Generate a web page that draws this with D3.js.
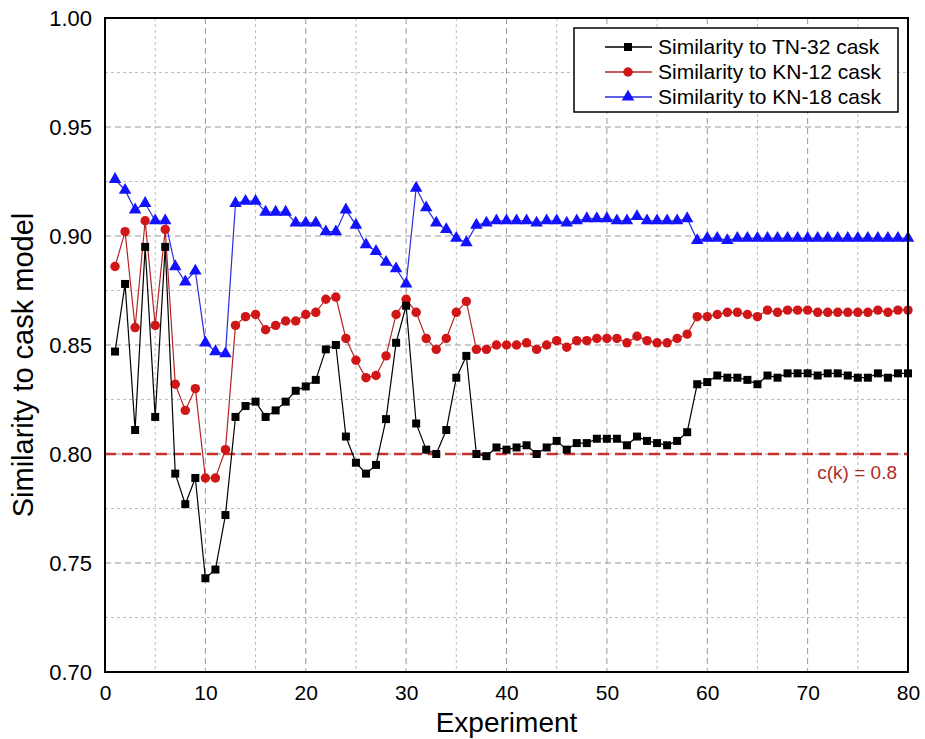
<!DOCTYPE html>
<html>
<head>
<meta charset="utf-8">
<script src="https://cdn.jsdelivr.net/npm/d3@7"></script>
<style>
  body { margin: 0; background: #fff; }
  text { font-family: "Liberation Sans", Arial, sans-serif; }
</style>
</head>
<body>
<div id="chart"></div>
<script>
// experiment numbers 1..80
const experiments = d3.range(1, 81);

const tn32 = [
  0.847, 0.878, 0.811, 0.895, 0.817, 0.895, 0.791, 0.777, 0.789, 0.743,
  0.747, 0.772, 0.817, 0.822, 0.824, 0.817, 0.820, 0.824, 0.829, 0.831,
  0.834, 0.848, 0.850, 0.808, 0.796, 0.791, 0.795, 0.816, 0.851, 0.868,
  0.814, 0.802, 0.800, 0.811, 0.835, 0.845, 0.800, 0.799, 0.803, 0.802,
  0.803, 0.804, 0.800, 0.803, 0.806, 0.802, 0.805, 0.805, 0.807, 0.807,
  0.807, 0.804, 0.808, 0.806, 0.805, 0.804, 0.806, 0.810, 0.832, 0.833,
  0.836, 0.835, 0.835, 0.834, 0.832, 0.836, 0.835, 0.837, 0.837, 0.837,
  0.836, 0.837, 0.837, 0.836, 0.835, 0.835, 0.837, 0.835, 0.837, 0.837
];

const kn12 = [
  0.886, 0.902, 0.858, 0.907, 0.859, 0.903, 0.832, 0.820, 0.830, 0.789,
  0.789, 0.802, 0.859, 0.863, 0.864, 0.857, 0.859, 0.861, 0.861, 0.864,
  0.865, 0.871, 0.872, 0.853, 0.843, 0.835, 0.836, 0.845, 0.864, 0.871,
  0.865, 0.853, 0.848, 0.853, 0.865, 0.870, 0.848, 0.848, 0.850, 0.850,
  0.850, 0.851, 0.848, 0.850, 0.852, 0.849, 0.852, 0.852, 0.853, 0.853,
  0.853, 0.851, 0.854, 0.852, 0.851, 0.851, 0.853, 0.855, 0.863, 0.863,
  0.864, 0.865, 0.865, 0.864, 0.863, 0.866, 0.865, 0.866, 0.866, 0.866,
  0.865, 0.865, 0.865, 0.865, 0.865, 0.865, 0.866, 0.865, 0.866, 0.866
];

const kn18 = [
  0.926, 0.921, 0.912, 0.915, 0.907, 0.907, 0.886, 0.879, 0.884, 0.851,
  0.847, 0.846, 0.915, 0.916, 0.916, 0.911, 0.911, 0.911, 0.906, 0.906,
  0.906, 0.902, 0.902, 0.912, 0.905, 0.896, 0.893, 0.888, 0.885, 0.878,
  0.922, 0.913, 0.906, 0.903, 0.899, 0.897, 0.905, 0.906, 0.907, 0.907,
  0.907, 0.907, 0.906, 0.907, 0.907, 0.906, 0.907, 0.908, 0.908, 0.908,
  0.907, 0.907, 0.909, 0.907, 0.907, 0.907, 0.907, 0.908, 0.898, 0.899,
  0.899, 0.898, 0.899, 0.899, 0.899, 0.899, 0.899, 0.899, 0.899, 0.899,
  0.899, 0.899, 0.899, 0.899, 0.899, 0.899, 0.899, 0.899, 0.899, 0.899
];

const seriesNames = ["Similarity to TN-32 cask", "Similarity to KN-12 cask", "Similarity to KN-18 cask"];
const xTicks = [0, 10, 20, 30, 40, 50, 60, 70, 80];
const yTicks = [0.70, 0.75, 0.80, 0.85, 0.90, 0.95, 1.00];
const threshold = 0.8;

let width = 925, height = 739;
let m = { left: 105, right: 908, top: 18, bottom: 672 };

let svg = d3.select("#chart").append("svg")
    .attr("width", width)
    .attr("height", height);

svg.append("rect").attr("width", width).attr("height", height).attr("fill", "#fff");

let x = d3.scaleLinear().domain([0, 80]).range([m.left, m.right]);
let y = d3.scaleLinear().domain([0.70, 1.00]).range([m.bottom, m.top]);

// grid: minor dotted, major dashed
let grid = svg.append("g");
let minorX = d3.range(5, 80, 10), minorY = [0.725, 0.775, 0.825, 0.875, 0.925, 0.975];
grid.selectAll(".mx").data(minorX).enter().append("line")
    .attr("x1", d => x(d)).attr("x2", d => x(d)).attr("y1", m.top).attr("y2", m.bottom)
    .attr("stroke", "#bdbdbd").attr("stroke-dasharray", "3,3");
grid.selectAll(".my").data(minorY).enter().append("line")
    .attr("y1", d => y(d)).attr("y2", d => y(d)).attr("x1", m.left).attr("x2", m.right)
    .attr("stroke", "#bdbdbd").attr("stroke-dasharray", "3,3");
grid.selectAll(".gx").data(xTicks.slice(1, -1)).enter().append("line")
    .attr("x1", d => x(d)).attr("x2", d => x(d)).attr("y1", m.top).attr("y2", m.bottom)
    .attr("stroke", "#999").attr("stroke-dasharray", "6,4");
grid.selectAll(".gy").data(yTicks.slice(1, -1)).enter().append("line")
    .attr("y1", d => y(d)).attr("y2", d => y(d)).attr("x1", m.left).attr("x2", m.right)
    .attr("stroke", "#999").attr("stroke-dasharray", "6,4");

// threshold line
svg.append("line")
    .attr("x1", m.left).attr("x2", m.right)
    .attr("y1", y(threshold)).attr("y2", y(threshold))
    .attr("stroke", "#c8322d").attr("stroke-width", 2.5)
    .attr("stroke-dasharray", "11,6");
svg.append("text")
    .attr("x", 897).attr("y", y(threshold) + 25)
    .attr("text-anchor", "end")
    .attr("font-size", 19)
    .attr("fill", "#b02a2a")
    .text("c(k) = " + threshold);

let series = [
  { name: seriesNames[2], values: kn18, line: "#2b2bdd", fill: "#1212ff", shape: d3.symbolTriangle, size: 68 },
  { name: seriesNames[1], values: kn12, line: "#b52323", fill: "#d01616", shape: d3.symbolCircle, size: 70 },
  { name: seriesNames[0], values: tn32, line: "#000", fill: "#000", shape: d3.symbolSquare, size: 64 }
];

let line = d3.line().x((d, i) => x(experiments[i])).y(d => y(d));

series.forEach(s => {
  let g = svg.append("g");
  g.append("path").datum(s.values)
      .attr("d", line)
      .attr("fill", "none")
      .attr("stroke", s.line)
      .attr("stroke-width", 1.2);
  g.selectAll("path.pt").data(s.values).enter().append("path")
      .attr("class", "pt")
      .attr("transform", (d, i) => `translate(${x(experiments[i])},${y(d)})`)
      .attr("d", d3.symbol().type(s.shape).size(s.size))
      .attr("fill", s.fill);
});

// frame
svg.append("rect")
    .attr("x", m.left).attr("y", m.top)
    .attr("width", m.right - m.left).attr("height", m.bottom - m.top)
    .attr("fill", "none").attr("stroke", "#000").attr("stroke-width", 2);

// axes
let xAxis = svg.append("g")
    .attr("transform", `translate(0,${m.bottom})`)
    .call(d3.axisBottom(x).tickValues(xTicks).tickSize(0).tickPadding(13).tickFormat(d3.format("d")));
xAxis.select(".domain").remove();
xAxis.selectAll("text").attr("font-size", 21).attr("fill", "#000")
    .style("font-family", "'Liberation Sans', Arial, sans-serif");

let yAxis = svg.append("g")
    .attr("transform", `translate(${m.left},0)`)
    .call(d3.axisLeft(y).tickValues(yTicks).tickSize(0).tickPadding(13).tickFormat(d3.format(".2f")));
yAxis.select(".domain").remove();
yAxis.selectAll("text").attr("font-size", 22).attr("fill", "#000")
    .style("font-family", "'Liberation Sans', Arial, sans-serif");

// axis titles
svg.append("text")
    .attr("x", (m.left + m.right) / 2).attr("y", 732)
    .attr("text-anchor", "middle")
    .attr("font-size", 28)
    .text("Experiment");

svg.append("text")
    .attr("transform", "translate(33,365) rotate(-90)")
    .attr("text-anchor", "middle")
    .attr("font-size", 29)
    .text("Similarity to cask model");

// legend
let legend = svg.append("g");
legend.append("rect")
    .attr("x", 574).attr("y", 28).attr("width", 324).attr("height", 84)
    .attr("fill", "#fff").attr("stroke", "#000").attr("stroke-width", 1.5);

let legendItems = series.slice().reverse();
legendItems.forEach((s, i) => {
  let cy = 47 + i * 25;
  legend.append("line")
      .attr("x1", 605).attr("x2", 652).attr("y1", cy).attr("y2", cy)
      .attr("stroke", s.line).attr("stroke-width", 1.3);
  legend.append("path")
      .attr("transform", `translate(628,${cy})`)
      .attr("d", d3.symbol().type(s.shape).size(s.size))
      .attr("fill", s.fill);
  legend.append("text")
      .attr("x", 658).attr("y", cy).attr("dy", "0.35em")
      .attr("font-size", 21)
      .text(s.name);
});
</script>
</body>
</html>
